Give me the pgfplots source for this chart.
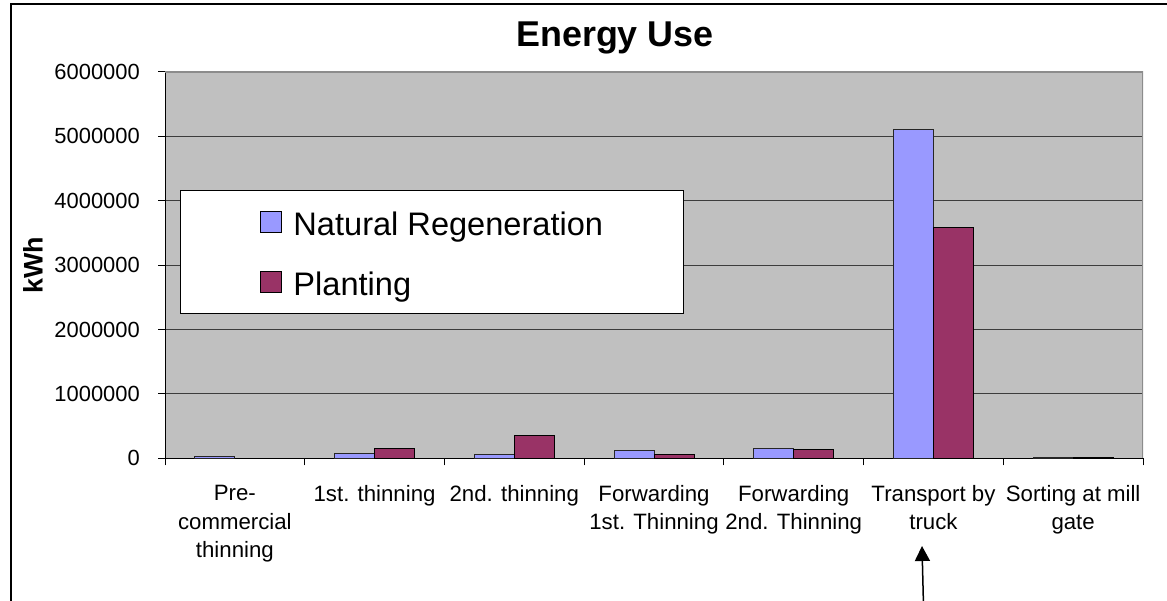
\documentclass[border=0pt]{standalone}
\usepackage{fontspec}
\setmainfont{Liberation Sans}
\usepackage{pgfplots}
\pgfplotsset{compat=1.18}
\usetikzlibrary{arrows.meta}
\definecolor{natreg}{RGB}{153,153,255}
\definecolor{plant}{RGB}{153,51,102}
\definecolor{plotbg}{RGB}{192,192,192}
\definecolor{gridc}{RGB}{60,60,60}
\definecolor{edgec}{RGB}{140,140,140}
\begin{document}
\begin{tikzpicture}[x=1bp,y=1bp]
\useasboundingbox (0,0) rectangle (1167,601);
\draw[line width=1.3bp] (11,-5) -- (11,597) -- (1172,597);
\begin{axis}[
  at={(165bp,142.7bp)}, anchor=south west,
  scale only axis, width=978bp, height=386.3bp,
  ymin=0, ymax=6000000, xmin=-0.5, xmax=6.5,
  axis x line*=bottom, axis y line*=left,
  axis line style={black, line width=1bp},
  axis background/.style={fill=plotbg},
  ytick={0,1000000,2000000,3000000,4000000,5000000,6000000},
  scaled y ticks=false,
  yticklabel style={/pgf/number format/fixed, /pgf/number format/1000 sep={},
    /pgf/number format/assume math mode=true,
    font=\fontsize{22}{26}\selectfont, inner sep=0pt, anchor=east, xshift=-18bp},
  tick align=outside, major tick length=7bp,
  tick style={black, line width=1bp},
  ymajorgrids, major grid style={gridc, line width=1bp},
  xtick={-0.5,0.5,1.5,2.5,3.5,4.5,5.5,6.5},
  xticklabels={},
  extra x ticks={0,1,2,3,4,5,6},
  extra x tick labels={{Pre-\\commercial\\thinning},{1st. thinning},{2nd. thinning},{Forwarding\\1st. Thinning},{Forwarding\\2nd. Thinning},{Transport by\\truck},{Sorting at mill\\gate}},
  extra x tick style={major tick length=0pt, grid=none,
    xticklabel style={align=center, font=\fontsize{22.3}{28.7}\selectfont, inner sep=0pt, anchor=north, yshift=-26.7bp}},
  ybar=0pt, bar width=40bp,
  title={Energy Use},
  title style={at={(axis description cs:0.4601,1.0518)}, anchor=base, inner sep=0pt,
    font=\bfseries\fontsize{36}{40}\selectfont},
  ylabel={kWh},
  ylabel style={at={(axis description cs:-0.135,0.5)}, anchor=center, inner sep=0pt,
    font=\bfseries\fontsize{27}{30}\selectfont},
  legend style={at={(axis description cs:0.0153,0.6945)}, anchor=north west,
    draw=black, line width=1bp, fill=white,
    font=\fontsize{32.7}{38}\selectfont,
    inner xsep=80bp, inner ysep=11.8bp, row sep=20.6bp,
    nodes={inner sep=0pt, text height=32.7bp, text depth=6.7bp},
    /tikz/every odd column/.append style={column sep=11bp}},
  legend cell align=left,
  legend image code/.code={\draw[#1, draw=black, line width=1bp] (0bp,-10.5bp) rectangle (21bp,10.5bp);},
]
\addplot[fill=natreg, draw=black!85, line width=1bp] coordinates {
(0,25000) (1,78000) (2,62000) (3,114000) (4,145000) (5,5100000) (6,15000)};
\addplot[fill=plant, draw=black, line width=1bp] coordinates {
(0,0) (1,145000) (2,357000) (3,62000) (4,130000) (5,3580000) (6,15000)};
\legend{Natural Regeneration, Planting}
\draw[edgec, line width=1.2bp] (rel axis cs:0,1) -- (rel axis cs:1,1) -- (rel axis cs:1,0);
\end{axis}
\draw[line width=1.5bp, -{Triangle[length=15bp,width=15bp]}] (923.5,-5) -- (922,55);
\end{tikzpicture}
\end{document}
